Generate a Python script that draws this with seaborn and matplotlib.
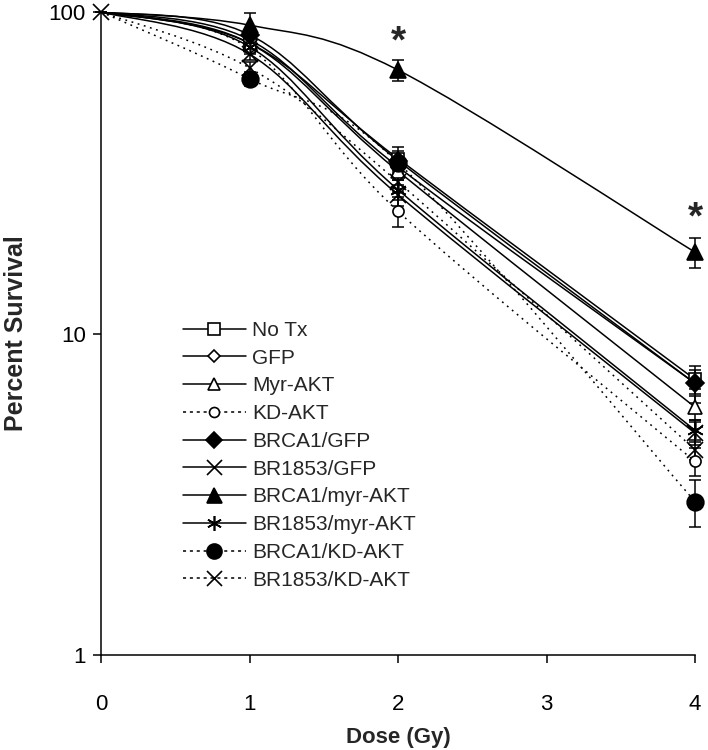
import numpy as np
import matplotlib
matplotlib.use("Agg")
import matplotlib.pyplot as plt
import seaborn as sns
from matplotlib.path import Path
from matplotlib.patches import PathPatch
from matplotlib.lines import Line2D

# data
dose = [0, 1, 2, 4]

labels = ["No Tx", "GFP", "Myr-AKT", "KD-AKT", "BRCA1/GFP", "BR1853/GFP",
          "BRCA1/myr-AKT", "BR1853/myr-AKT", "BRCA1/KD-AKT", "BR1853/KD-AKT"]

no_tx = [100, 80, 35, 7.2]
gfp = [100, 82, 33, 7.0]
myr_akt = [100, 80, 32, 5.9]
kd_akt = [100, 77, 24, 4.0]
brca1_gfp = [100, 85, 34.5, 7.0]
br1853_gfp = [100, 74, 27, 4.9]
brca1_myr = [100, 91, 66, 17.9]
br1853_myr = [100, 78, 28, 5.0]
brca1_kd = [100, 62, 34, 3.0]
br1853_kd = [100, 67, 29.6, 4.35]

err_no_tx = [0, 3, 2, 0.5]
err_gfp = [0, 3, 2, 0.5]
err_myr_akt = [0, 3, 2, 0.5]
err_kd_akt = [0, 3, 2.5, 0.4]
err_brca1_gfp = [0, 3, 3.5, 0.9]
err_br1853_gfp = [0, 3, 2, 0.4]
err_brca1_myr = [0, 8, 5, 1.9]
err_br1853_myr = [0, 3, 2, 0.4]
err_brca1_kd = [0, 3, 2, 0.5]
err_br1853_kd = [0, 3, 2, 0.3]

series = [no_tx, gfp, myr_akt, kd_akt, brca1_gfp, br1853_gfp,
          brca1_myr, br1853_myr, brca1_kd, br1853_kd]
errors = [err_no_tx, err_gfp, err_myr_akt, err_kd_akt, err_brca1_gfp, err_br1853_gfp,
          err_brca1_myr, err_br1853_myr, err_brca1_kd, err_br1853_kd]

star_dose = [2, 4]
star_y = [86, 24.4]

dotted = (0, (1.2, 3.0))
legend_dotted = (0, (2, 2.5))
asterisk = (6, 2, 0)
styles = [
    ("s", "white", "-", 9),
    ("D", "white", "-", 7),
    ("^", "white", "-", 10),
    ("o", "white", ":", 8),
    ("D", "black", "-", 9),
    ("x", "black", "-", 12),
    ("^", "black", "-", 12),
    (asterisk, "black", "-", 12),
    ("o", "black", ":", 12),
    ("x", "black", ":", 12),
]


def smooth_path(x, y):
    # excel-style smoothed line, bezier in (x, log y) space
    P = np.column_stack([np.asarray(x, float), np.log10(y)])
    n = len(P)
    verts = [P[0]]
    codes = [Path.MOVETO]
    for i in range(n - 1):
        prev = P[i - 1] if i > 0 else P[i]
        nxt = P[i + 2] if i + 2 < n else P[i + 1]
        c1 = P[i] + (P[i + 1] - prev) / 6
        c2 = P[i + 1] - (nxt - P[i]) / 6
        verts += [c1, c2, P[i + 1]]
        codes += [Path.CURVE4] * 3
    verts = np.array(verts)
    verts[:, 1] = 10 ** verts[:, 1]
    return Path(verts, codes)


sns.set_theme(style="ticks")
plt.rcParams["font.family"] = ["Liberation Sans", "DejaVu Sans"]

fig = plt.figure(figsize=(7.08, 7.5), dpi=100)
ax = fig.add_axes([101 / 708, 1 - 655 / 750, 594 / 708, 643 / 750])
ax.set_yscale("log")
ax.set_xlim(0, 4)
ax.set_ylim(1, 100)

handles = []
n = len(series)
for k, (vals, err, (mk, fc, ls, ms), lab) in enumerate(zip(series, errors, styles, labels)):
    lstyle = dotted if ls == ":" else "-"
    patch = PathPatch(smooth_path(dose, vals), facecolor="none", edgecolor="black",
                      lw=1.1, linestyle=lstyle, zorder=2)
    ax.add_patch(patch)
    ax.errorbar(dose, vals, yerr=err, fmt="none", ecolor="black", elinewidth=1.1,
                capsize=4.5, capthick=1.1, zorder=3, clip_on=False)
    # only the last series shows its marker at the 0 Gy point (drawn on top)
    start = 0 if k == n - 1 else 1
    ax.plot(dose[start:], vals[start:], linestyle="none", marker=mk, markersize=ms,
            markerfacecolor=fc, markeredgecolor="black", markeredgewidth=1.2,
            color="black", zorder=4, clip_on=False)
    handles.append(Line2D([], [], color="black", lw=1.1,
                          linestyle=legend_dotted if ls == ":" else "-",
                          marker=mk, markersize=ms * 0.9, markerfacecolor=fc,
                          markeredgecolor="black", markeredgewidth=1.2))

for xd, yd in zip(star_dose, star_y):
    ax.annotate("*", xy=(xd, yd), xytext=(0, -14), textcoords="offset points",
                ha="center", va="baseline", fontsize=28, fontweight="bold")

ax.set_xticks([0, 1, 2, 3, 4])
ax.set_yticks([1, 10, 100])
ax.set_yticklabels(["1", "10", "100"])
ax.yaxis.set_minor_locator(matplotlib.ticker.NullLocator())
ax.tick_params(axis="both", direction="out", length=6, width=1.1, colors="black",
               labelsize=16)
ax.tick_params(axis="y", pad=5)
ax.tick_params(axis="x", pad=22)
for s in ["top", "right"]:
    ax.spines[s].set_visible(False)
for s in ["left", "bottom"]:
    ax.spines[s].set_linewidth(1.1)
    ax.spines[s].set_color("black")

ax.set_xlabel("Dose (Gy)", fontsize=16, fontweight="bold", va="center")
ax.set_ylabel("Percent Survival", fontsize=18, fontweight="bold", va="center")
ax.xaxis.set_label_coords(0.5, (655 - 737) / 643)
ax.yaxis.set_label_coords((16 - 101) / 594, 0.5)

ax.legend(handles=handles, labels=labels, loc="upper left",
          bbox_to_anchor=((183 - 101) / 594, (655 - 321) / 643), frameon=False,
          fontsize=15, handlelength=3.0, handletextpad=0.3, labelspacing=0.42,
          borderpad=0, borderaxespad=0, numpoints=1)

fig.savefig("out.png", dpi=100)
